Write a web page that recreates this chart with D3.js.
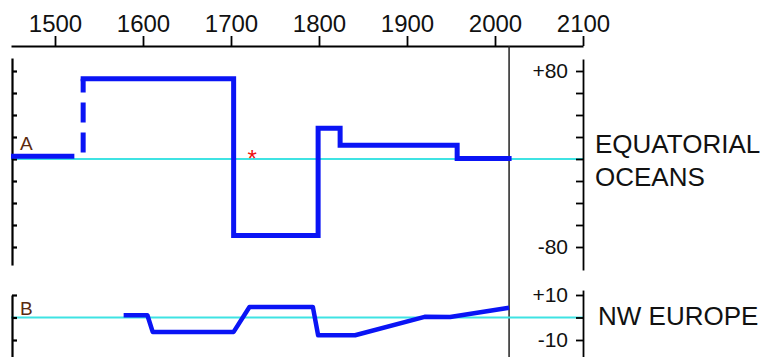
<!DOCTYPE html>
<html>
<head>
<meta charset="utf-8">
<script src="https://cdn.jsdelivr.net/npm/d3@7"></script>
<style>
  body { margin: 0; background: #fff; }
  svg { display: block; font-family: "Liberation Sans", Arial, sans-serif; }
</style>
</head>
<body>
<svg id="chart" width="765" height="357"></svg>
<script>
// tick labels
const yearTicks = [1500, 1600, 1700, 1800, 1900, 2000, 2100]
const eqTicks = [-80, -60, -40, -20, 0, 20, 40, 60, 80]
const eqTickLabels = { "80": "+80", "-80": "-80" }
const euTicks = [-10, 0, 10]
const euTickLabels = { "10": "+10", "-10": "-10" }

// equatorial oceans (A)
const eqEarlyYears = [1450, 1522]
const eqEarlyVals = [2.5, 2.5]
const eqDashYears = [1532, 1532]
const eqDashVals = [6, 73]
const eqStepYears = [1532, 1703, 1799, 1824, 1957, 2016]
const eqStepVals = [73, -69.5, 28, 12.5, 0.5, 0.5]
const starYear = 1724
const starVal = 3

// NW Europe (B)
const euYears = [1578, 1605, 1611, 1703, 1721, 1793, 1799, 1841, 1920, 1949, 2016]
const euVals = [1, 1, -6.4, -6.4, 4.7, 4.7, -7.9, -7.9, 0.3, 0.2, 4.3]

const presentYear = 2016

const svg = d3.select('#chart')
const blue = '#0a14f5'
const cyan = '#3fe3e3'

const x = d3.scaleLinear().domain([1450, 2100]).range([11, 583])
const yA = d3.scaleLinear().domain([-80, 80]).range([247, 71])
const yB = d3.scaleLinear().domain([-10, 10]).range([340, 295])

// top year axis
const xAxis = svg.append('g')
    .attr('transform', 'translate(0,46)')
    .call(d3.axisTop(x).tickValues(yearTicks).tickFormat(d3.format('d'))
        .tickSize(10).tickPadding(4).tickSizeOuter(0))
xAxis.select('.domain').attr('stroke-width', 1.8)
xAxis.selectAll('.tick line').attr('stroke-width', 1.8)
xAxis.selectAll('text').attr('font-size', 24).attr('fill', '#111')
    .style('font-family', '"Liberation Sans", Arial, sans-serif')

// present day line
svg.append('line')
    .attr('x1', x(presentYear)).attr('x2', x(presentYear))
    .attr('y1', 46).attr('y2', 357)
    .attr('stroke', '#222').attr('stroke-width', 1.5)

// zero lines
svg.append('line')
    .attr('x1', x(1450)).attr('x2', x(2100))
    .attr('y1', yA(0)).attr('y2', yA(0))
    .attr('stroke', cyan).attr('stroke-width', 2)
svg.append('line')
    .attr('x1', x(1450)).attr('x2', x(2100))
    .attr('y1', yB(0)).attr('y2', yB(0))
    .attr('stroke', cyan).attr('stroke-width', 2)

// left axes
const leftA = yA.copy().domain([-96.4, 91.8]).range([yA(-96.4), yA(91.8)])
const gLA = svg.append('g')
    .attr('transform', `translate(${x(1450) + 1},0)`)
    .call(d3.axisRight(leftA).tickValues(eqTicks).tickSize(5).tickSizeOuter(0).tickFormat(''))
gLA.selectAll('path, line').attr('stroke-width', 2.2)

const leftB = yB.copy().domain([-18, 10]).range([yB(-18), yB(10)])
const gLB = svg.append('g')
    .attr('transform', `translate(${x(1450) + 1},0)`)
    .call(d3.axisRight(leftB).tickValues(euTicks).tickSize(5).tickSizeOuter(0).tickFormat(''))
gLB.selectAll('path, line').attr('stroke-width', 2.2)

// right axes
const rightA = yA.copy().domain([-100.9, 90.9]).range([yA(-100.9), yA(90.9)])
const gRA = svg.append('g')
    .attr('transform', `translate(${x(2100)},0)`)
    .call(d3.axisLeft(rightA).tickValues(eqTicks).tickSize(7).tickPadding(8).tickSizeOuter(0)
        .tickFormat(d => eqTickLabels[d] || ''))
gRA.selectAll('path, line').attr('stroke-width', 1.8)

const rightB = yB.copy().domain([-18, 12.2]).range([yB(-18), yB(12.2)])
const gRB = svg.append('g')
    .attr('transform', `translate(${x(2100)},0)`)
    .call(d3.axisLeft(rightB).tickValues(euTicks).tickSize(7).tickPadding(8).tickSizeOuter(0)
        .tickFormat(d => euTickLabels[d] || ''))
gRB.selectAll('path, line').attr('stroke-width', 1.8)

;[gRA, gRB].forEach(g => g.selectAll('text')
    .attr('font-size', 21).attr('fill', '#111')
    .style('font-family', '"Liberation Sans", Arial, sans-serif'))

// series A
const lineA = d3.line().x(d => x(d[0])).y(d => yA(d[1]))
svg.append('path')
    .datum(d3.zip(eqEarlyYears, eqEarlyVals))
    .attr('d', lineA)
    .attr('fill', 'none').attr('stroke', blue).attr('stroke-width', 5)
svg.append('path')
    .datum(d3.zip(eqDashYears, eqDashVals))
    .attr('d', lineA)
    .attr('fill', 'none').attr('stroke', blue).attr('stroke-width', 5)
    .attr('stroke-dasharray', '20,10')
svg.append('path')
    .datum(d3.zip(eqStepYears, eqStepVals))
    .attr('d', lineA.curve(d3.curveStepAfter))
    .attr('fill', 'none').attr('stroke', blue).attr('stroke-width', 5)
    .attr('stroke-linejoin', 'miter').attr('stroke-linecap', 'square')

svg.append('text')
    .attr('x', x(starYear)).attr('y', yA(starVal) + 11)
    .attr('text-anchor', 'middle')
    .attr('font-size', 24).attr('fill', '#ee1111')
    .text('*')

// series B
const lineB = d3.line().x(d => x(d[0])).y(d => yB(d[1]))
svg.append('path')
    .datum(d3.zip(euYears, euVals))
    .attr('d', lineB)
    .attr('fill', 'none').attr('stroke', blue).attr('stroke-width', 4.5)
    .attr('stroke-linejoin', 'round')

// panel letters
svg.append('text').attr('x', 20).attr('y', 150)
    .attr('font-size', 19).attr('fill', '#5a2a10').text('A')
svg.append('text').attr('x', 20).attr('y', 315)
    .attr('font-size', 19).attr('fill', '#5a2a10').text('B')

// region names
const names = svg.append('g').attr('font-size', 26).attr('fill', '#111')
names.append('text').attr('x', 595).attr('y', 153).text('EQUATORIAL')
names.append('text').attr('x', 595).attr('y', 186).text('OCEANS')
names.append('text').attr('x', 598).attr('y', 325).text('NW EUROPE')
</script>
</body>
</html>
